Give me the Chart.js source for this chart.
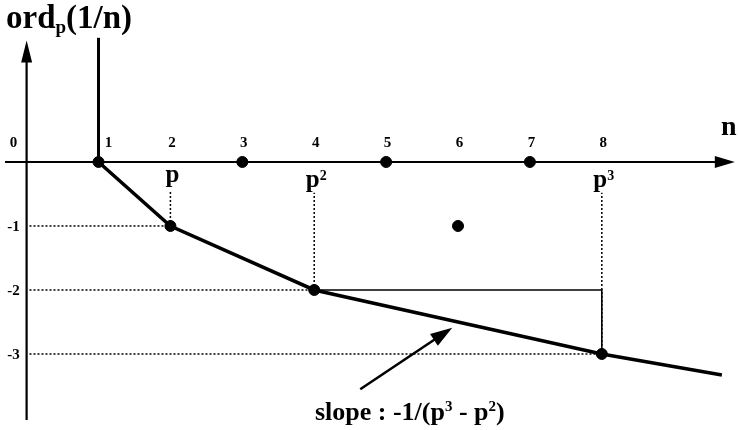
<!DOCTYPE html>
<html>
<head>
<meta charset="utf-8">
<script src="https://cdn.jsdelivr.net/npm/chart.js@4"></script>
<style>
  body { margin: 0; background: #fff; }
  canvas { display: block; }
</style>
</head>
<body>
<canvas id="ordChart" width="738" height="430"></canvas>
<script>
// values
const nTicks = [0, 1, 2, 3, 4, 5, 6, 7, 8];
const ordTicks = [-1, -2, -3];
const latticeN = [1, 2, 3, 4, 5, 6, 7, 8];
const latticeOrd = [0, -1, 0, -2, 0, -1, 0, -3];
const polygonN = [1, 2, 4, 8, 9.67];
const polygonOrd = [0, -1, -2, -3, -3.33];
const powerN = [2, 4, 8];
const powerOrd = [-1, -2, -3];
const powerBase = ['p', 'p', 'p'];
const powerExp = ['', '2', '3'];
const guideTop = [-0.44, -0.48, -0.48];

const BLACK = '#000';
const SERIF = '"Liberation Serif", "DejaVu Serif", serif';

const toPts = (xs, ys) => xs.map((x, i) => ({ x: x, y: ys[i] }));

const datasets = [];

// dotted guides from the y axis and up to the p labels
powerN.forEach((n, i) => {
  datasets.push({
    data: [{ x: 0.04, y: powerOrd[i] }, { x: n, y: powerOrd[i] }],
    borderColor: BLACK, borderWidth: 1.5, borderDash: [2, 2], pointRadius: 0,
  });
  datasets.push({
    data: [{ x: n, y: powerOrd[i] }, { x: n, y: guideTop[i] }],
    borderColor: BLACK, borderWidth: 1.5, borderDash: [2, 2], pointRadius: 0,
  });
});

// rise / run box between p^2 and p^3
datasets.push({
  data: [
    { x: powerN[1], y: powerOrd[1] },
    { x: powerN[2], y: powerOrd[1] },
    { x: powerN[2], y: powerOrd[2] },
  ],
  borderColor: BLACK, borderWidth: 1.6, pointRadius: 0,
});

// vertical edge at n = 1
datasets.push({
  data: [{ x: 1, y: 0 }, { x: 1, y: 1.94 }],
  borderColor: BLACK, borderWidth: 3, pointRadius: 0,
});

// the polygon
datasets.push({
  data: toPts(polygonN, polygonOrd),
  borderColor: BLACK, borderWidth: 3.5, pointRadius: 0,
});

// lattice points
datasets.push({
  data: toPts(latticeN, latticeOrd),
  showLine: false, pointRadius: 5.5, pointBackgroundColor: BLACK, pointBorderColor: BLACK,
});

datasets.forEach((d) => {
  if (d.showLine === undefined) d.showLine = true;
  d.tension = 0;
  d.fill = false;
});

function arrowHead(ctx, x1, y1, x2, y2, len, half) {
  const a = Math.atan2(y2 - y1, x2 - x1);
  ctx.beginPath();
  ctx.moveTo(x2, y2);
  ctx.lineTo(x2 - len * Math.cos(a) + half * Math.sin(a), y2 - len * Math.sin(a) - half * Math.cos(a));
  ctx.lineTo(x2 - len * Math.cos(a) - half * Math.sin(a), y2 - len * Math.sin(a) + half * Math.cos(a));
  ctx.closePath();
  ctx.fill();
}

// text runs: [string, size, raise]
function drawRuns(ctx, runs, x, y, align) {
  let total = 0;
  runs.forEach((r) => {
    ctx.font = 'bold ' + r[1] + 'px ' + SERIF;
    total += ctx.measureText(r[0]).width;
  });
  let cx = align === 'center' ? x - total / 2 : x;
  ctx.textAlign = 'left';
  ctx.textBaseline = 'alphabetic';
  runs.forEach((r) => {
    ctx.font = 'bold ' + r[1] + 'px ' + SERIF;
    ctx.fillText(r[0], cx, y - r[2]);
    cx += ctx.measureText(r[0]).width;
  });
}

const axesPlugin = {
  id: 'axes',
  beforeDatasetsDraw(chart) {
    const ctx = chart.ctx;
    const xs = chart.scales.x;
    const ys = chart.scales.y;
    const x0 = xs.getPixelForValue(0);
    const y0 = ys.getPixelForValue(0);
    ctx.save();
    ctx.strokeStyle = BLACK;
    ctx.fillStyle = BLACK;
    ctx.lineWidth = 2.2;
    // n axis
    const xl = xs.getPixelForValue(-0.3);
    const xr = xs.getPixelForValue(9.85);
    ctx.beginPath();
    ctx.moveTo(xl, y0);
    ctx.lineTo(xr - 10, y0);
    ctx.stroke();
    arrowHead(ctx, xl, y0, xr, y0, 20, 6);
    // ord axis
    const yb = ys.getPixelForValue(-4.03);
    const yt = ys.getPixelForValue(1.9);
    ctx.beginPath();
    ctx.moveTo(x0, yb);
    ctx.lineTo(x0, yt + 10);
    ctx.stroke();
    arrowHead(ctx, x0, yb, x0, yt, 22, 5.5);
    ctx.restore();
  },
  afterDatasetsDraw(chart) {
    const ctx = chart.ctx;
    const xs = chart.scales.x;
    const ys = chart.scales.y;
    const x0 = xs.getPixelForValue(0);
    ctx.save();
    ctx.fillStyle = BLACK;
    ctx.strokeStyle = BLACK;

    // n tick numbers above the axis
    ctx.font = 'bold 15px ' + SERIF;
    ctx.textAlign = 'center';
    ctx.textBaseline = 'middle';
    nTicks.forEach((n) => {
      let dx = 1.5;
      if (n === 0) dx = -13;
      if (n === 1) dx = 10;
      ctx.fillText(String(n), xs.getPixelForValue(n) + dx, ys.getPixelForValue(0.30));
    });

    // ord tick numbers
    ordTicks.forEach((v) => {
      ctx.fillText(String(v), x0 - 13, ys.getPixelForValue(v) + 1);
    });

    // p, p^2, p^3
    powerN.forEach((n, i) => {
      const runs = [[powerBase[i], 25, 0]];
      if (powerExp[i]) runs.push([powerExp[i], 14, 7]);
      const baseY = powerExp[i] ? 187 : 182;
      drawRuns(ctx, runs, xs.getPixelForValue(n) + 2, baseY, 'center');
    });

    // axis titles
    drawRuns(ctx, [['ord', 33, 0], ['p', 19, -5], ['(1/n)', 33, 0]], 6, 28, 'left');
    drawRuns(ctx, [['n', 28, 0]], 721, 135, 'left');

    // slope annotation arrow
    const tx = xs.getPixelForValue(4.64);
    const ty = ys.getPixelForValue(-3.55);
    const hx = xs.getPixelForValue(5.92);
    const hy = ys.getPixelForValue(-2.59);
    const a = Math.atan2(hy - ty, hx - tx);
    ctx.lineWidth = 2.5;
    ctx.beginPath();
    ctx.moveTo(tx, ty);
    ctx.lineTo(hx - 14 * Math.cos(a), hy - 14 * Math.sin(a));
    ctx.stroke();
    arrowHead(ctx, tx, ty, hx, hy, 22, 7);

    // slope text
    drawRuns(ctx, [
      ['slope : -1/(p', 26, 0],
      ['3', 15, 9],
      [' - p', 26, 0],
      ['2', 15, 9],
      [')', 26, 0],
    ], xs.getPixelForValue(5.33), ys.getPixelForValue(-4.03), 'center');
    ctx.restore();
  },
};

new Chart(document.getElementById('ordChart'), {
  type: 'scatter',
  data: { datasets: datasets },
  options: {
    responsive: false,
    animation: false,
    layout: { padding: 0, autoPadding: false },
    scales: {
      x: { type: 'linear', display: false, min: -0.37, max: 9.894 },
      y: { type: 'linear', display: false, min: -4.188, max: 2.531 },
    },
    plugins: {
      legend: { display: false },
      tooltip: { enabled: false },
    },
  },
  plugins: [axesPlugin],
});
</script>
</body>
</html>
